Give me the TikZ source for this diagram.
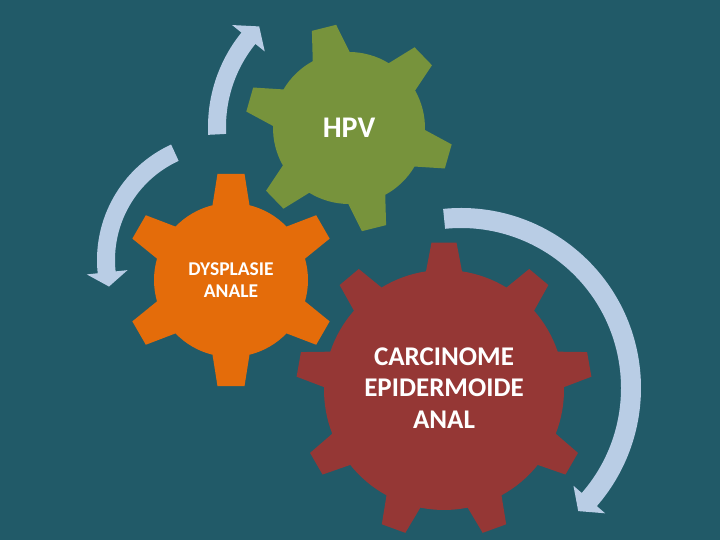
\documentclass[tikz,border=0pt]{standalone}
\usepackage{fontspec}
\setmainfont{Carlito}
\definecolor{bgcol}{HTML}{215A68}
\definecolor{arrowcol}{HTML}{B9CDE5}
\definecolor{gearGreen}{HTML}{77933C}
\definecolor{gearOrange}{HTML}{E46C0A}
\definecolor{gearRed}{HTML}{953735}
% #1 cx, #2 cy, #3 teeth, #4 first tooth angle, #5 inner r, #6 outer r, #7 half base width, #8 half tip width, #9 colour
\newcommand{\drawgear}[9]{%
  \pgfmathsetmacro{\gstep}{360/#3}%
  \pgfmathsetmacro{\gbb}{asin(#7/#5)}%
  \pgfmathsetmacro{\gbt}{asin(#8/#6)}%
  \fill[#9, shift={(#1,#2)}] ({#4-\gbb}:#5pt)
    \foreach \k in {1,...,#3}{
      -- ({#4+(\k-1)*\gstep-\gbt}:#6pt) -- ({#4+(\k-1)*\gstep+\gbt}:#6pt)
      -- ({#4+(\k-1)*\gstep+\gbb}:#5pt)
      arc[start angle={#4+(\k-1)*\gstep+\gbb}, end angle={#4+\k*\gstep-\gbb}, radius=#5pt]
    } -- cycle;%
}
\tikzset{
  geartext/.style={text=white, font=\bfseries, align=center, inner sep=0pt},
  arrowfill/.style={fill=arrowcol}
}
\begin{document}
\begin{tikzpicture}[x=1pt,y=1pt]
\useasboundingbox (0,0) rectangle (720,540);
\fill[bgcol] (0,0) rectangle (720,540);

% gears
\drawgear{349}{412}{6}{104}{76}{104}{19}{12.5}{gearGreen}
\drawgear{231}{260}{6}{90}{77}{107}{18.5}{13.5}{gearOrange}
\drawgear{444}{150}{9}{90}{120}{148}{18}{12.5}{gearRed}

% circular arrows
\fill[arrowfill, shift={(358,413)}] (183:150pt) arc[start angle=183, end angle=141, radius=150pt]
  -- (141:162pt) -- (134.5:141pt) -- (141:120pt) -- (141:132pt)
  arc[start angle=141, end angle=183, radius=132pt] -- cycle;
\fill[arrowfill, shift={(224,280)}] (114.6:127pt) arc[start angle=114.6, end angle=186, radius=127pt]
  -- (186:138pt) -- (193:118pt) -- (186:97pt) -- (186:109pt)
  arc[start angle=186, end angle=114.6, radius=109pt] -- cycle;
\fill[arrowfill, shift={(461,152)}] (95.7:180pt) arc[start angle=95.7, end angle=-41, radius=180pt]
  -- (-41:191pt) -- (-46.4:170pt) -- (-41:149pt) -- (-41:160pt)
  arc[start angle=-41, end angle=95.7, radius=160pt] -- cycle;

% texts
\node[geartext, font=\bfseries\fontsize{30}{36}\selectfont] (hpv) at (349,412) {HPV};
\node[geartext, font=\bfseries\fontsize{19.5}{22}\selectfont] (dysplasie) at (231,260) {DYSPLASIE\\ANALE};
\node[geartext, font=\bfseries\fontsize{27}{31.7}\selectfont] (carcinome) at (444,152) {CARCINOME\\EPIDERMOIDE\\ANAL};
\end{tikzpicture}
\end{document}
